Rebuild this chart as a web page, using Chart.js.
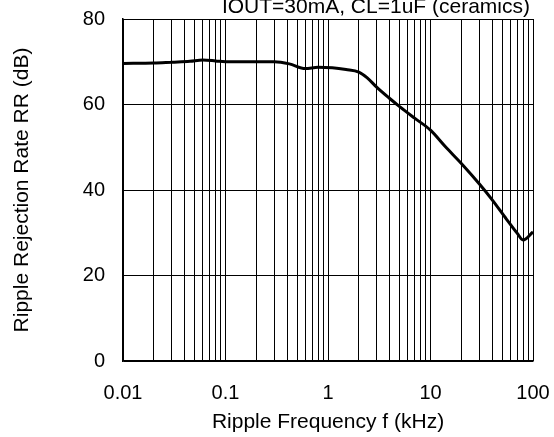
<!DOCTYPE html>
<html>
<head>
<meta charset="utf-8">
<script src="https://cdn.jsdelivr.net/npm/chart.js@4/dist/chart.umd.min.js"></script>
<style>
  html, body { margin: 0; padding: 0; background: #fff; }
  #wrap { width: 554px; height: 437px; }
</style>
</head>
<body>
<div id="wrap"><canvas id="chart" width="554" height="437"></canvas></div>
<script>
// ripple rejection vs frequency
const freqKHz = [0.01, 0.02, 0.03, 0.045, 0.06, 0.08, 0.1, 0.2, 0.3, 0.42, 0.6, 0.8, 1.1, 1.5, 2.0, 2.4, 3.0, 4.0, 5.0, 7.0, 10, 14, 20, 30, 40, 55, 70, 80, 100];
const rrDb = [69.6, 69.7, 69.9, 70.1, 70.4, 70.2, 70.0, 70.0, 70.0, 69.5, 68.4, 68.7, 68.6, 68.2, 67.6, 66.3, 64.0, 61.4, 59.5, 56.8, 54.0, 50.1, 46.2, 41.4, 37.7, 33.2, 29.9, 28.3, 30.2];

const xTickLabels = ['0.01', '0.1', '1', '10', '100'];
const yTicks = [0, 20, 40, 60, 80];
const conditionText = 'IOUT=30mA, CL=1uF (ceramics)';

// minor grid: 1..9 per decade
const xGrid = [];
xTickLabels.forEach((lbl, i) => {
  const base = parseFloat(lbl);
  if (i === xTickLabels.length - 1) { xGrid.push(base); return; }
  for (let m = 1; m <= 9; m++) xGrid.push(+(base * m).toPrecision(3));
});

const FONT = 'Liberation Sans, Arial, sans-serif';

const conditionLabel = {
  id: 'conditionLabel',
  afterDraw(chart) {
    const ctx = chart.ctx;
    ctx.save();
    ctx.font = '21px ' + FONT;
    ctx.fillStyle = '#000';
    ctx.textAlign = 'right';
    ctx.textBaseline = 'alphabetic';
    ctx.fillText(conditionText, chart.chartArea.right - 3, 13);
    ctx.restore();
  }
};

new Chart(document.getElementById('chart').getContext('2d'), {
  type: 'line',
  data: {
    datasets: [{
      data: freqKHz.map((f, i) => ({ x: f, y: rrDb[i] })),
      borderColor: '#000',
      borderWidth: 3,
      pointRadius: 0,
      cubicInterpolationMode: 'monotone',
      fill: false
    }]
  },
  options: {
    responsive: false,
    animation: false,
    layout: { padding: { top: 19, right: 21, left: 0, bottom: 0 } },
    plugins: { legend: { display: false }, tooltip: { enabled: false } },
    scales: {
      x: {
        type: 'logarithmic',
        min: 0.01,
        max: 100,
        afterBuildTicks: (scale) => { scale.ticks = xGrid.map(v => ({ value: v })); },
        afterFit: (scale) => {
          scale.height = 76;
          scale.paddingLeft = 0;
          scale.paddingRight = 0;
        },
        ticks: {
          autoSkip: false,
          maxRotation: 0,
          color: '#000',
          font: { family: FONT, size: 20 },
          padding: 20,
          callback: (v) => {
            const s = String(+v.toPrecision(3));
            return xTickLabels.includes(s) ? s : '';
          }
        },
        grid: { color: '#000', lineWidth: 1, drawTicks: false },
        border: { color: '#000', width: 1.5 },
        title: {
          display: true,
          text: 'Ripple Frequency f (kHz)',
          color: '#000',
          font: { family: FONT, size: 21 },
          padding: { top: 0, bottom: 2 }
        }
      },
      y: {
        min: 0,
        max: 80,
        afterBuildTicks: (scale) => { scale.ticks = yTicks.map(v => ({ value: v })); },
        afterFit: (scale) => {
          scale.width = 123;
          scale.paddingTop = 0;
          scale.paddingBottom = 0;
        },
        ticks: {
          color: '#000',
          font: { family: FONT, size: 20 },
          padding: 18
        },
        grid: { color: '#000', lineWidth: 1, drawTicks: false },
        border: { color: '#000', width: 1.5 },
        title: {
          display: true,
          text: 'Ripple Rejection Rate RR (dB)',
          color: '#000',
          font: { family: FONT, size: 21 },
          padding: { top: 10, bottom: 0 }
        }
      }
    }
  },
  plugins: [conditionLabel]
});
</script>
</body>
</html>
